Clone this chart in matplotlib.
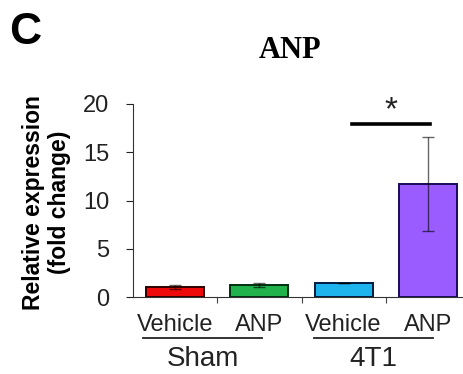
import numpy as np
import matplotlib
matplotlib.use('Agg')
import matplotlib.pyplot as plt

groups = ['Sham', '4T1']
treatments = ['Vehicle', 'ANP', 'Vehicle', 'ANP']
values = [1.05, 1.25, 1.45, 11.7]
errors = [0.2, 0.25, 0.05, 4.9]
colors = ['#ee0a0a', '#22b24c', '#1db3ec', '#9a5cff']
edges = ['#300000', '#003010', '#001a40', '#1a0a5a']

plt.rcParams['font.family'] = ['Liberation Sans', 'DejaVu Sans']

fig = plt.figure(figsize=(4.64, 3.74), dpi=100)
ax = fig.add_axes([133/464., 77/374., 337/464., 193/374.])

x = np.arange(len(values))
ax.bar(x, values, width=0.69, color=colors, edgecolor=edges, linewidth=1.4, zorder=2)
ax.errorbar(x, values, yerr=errors, fmt='none', ecolor='black', alpha=0.6,
            elinewidth=1.0, capsize=4, capthick=1.0, zorder=3)

ax.set_xlim(-0.5, 3.5)
ax.set_ylim(0, 20)
ax.set_yticks([0, 5, 10, 15, 20])
ax.set_xticks([0.5, 1.5, 2.5, 3.5])
ax.set_xticklabels([])
ax.tick_params(axis='y', labelsize=17, length=5, width=0.8, colors='#222222', pad=12)
ax.tick_params(axis='x', length=4, width=0.8, colors='#444444')
for s in ['top', 'right']:
    ax.spines[s].set_visible(False)
ax.spines['left'].set_color('#333333')
ax.spines['bottom'].set_color('#333333')

ax.set_ylabel('Relative expression\n(fold change)', fontsize=16.5, fontweight='bold',
              linespacing=1.18)
ax.yaxis.set_label_coords(-62/337., 0.49)

trans = ax.get_xaxis_transform()
for i, t in enumerate(treatments):
    ax.text(x[i], -0.145, t, transform=trans, ha='center', va='center', fontsize=17,
            color='#222222')
for g, (a, b) in zip(groups, [(-0.38, 1.03), (1.65, 3.06)]):
    ax.plot([a, b], [-0.215, -0.215], transform=trans, color='#222222', lw=1.3,
            clip_on=False)
    ax.text((a + b) / 2, -0.32, g, transform=trans, ha='center', va='center',
            fontsize=20, color='#222222')

# significance
ax.plot([2.10, 3.03], [17.9, 17.9], color='black', lw=2.6, clip_on=False)
ax.text(2.56, 19.3, '*', ha='center', va='center', fontsize=24, color='#222222')

fig.text(290/464., 1 - 50/374., 'ANP', ha='center', va='center', fontsize=22,
         fontweight='bold', family='Liberation Serif')
fig.text(25/464., 1 - 32/374., 'C', ha='center', va='center', fontsize=32,
         fontweight='bold')

fig.savefig('out.png', dpi=100)
